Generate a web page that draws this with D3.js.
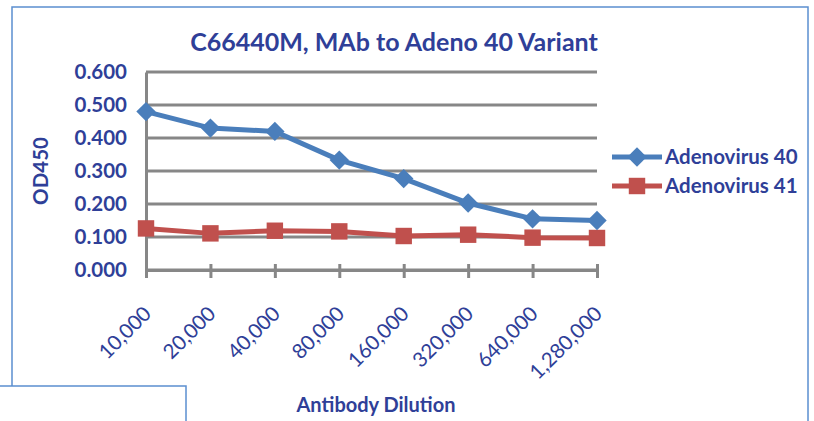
<!DOCTYPE html>
<html>
<head>
<meta charset="utf-8">
<script src="https://cdn.jsdelivr.net/npm/d3@7"></script>
<style>
  body { margin: 0; background: #fff; }
  svg { display: block; }
</style>
</head>
<body>
<div id="chart"></div>
<script>
// data
var dilutions = ["10,000", "20,000", "40,000", "80,000", "160,000", "320,000", "640,000", "1,280,000"];
var adeno40 = [0.480, 0.430, 0.420, 0.333, 0.277, 0.203, 0.155, 0.150];
var adeno41 = [0.126, 0.111, 0.119, 0.117, 0.103, 0.107, 0.098, 0.097];
var yTicks = [0, 0.1, 0.2, 0.3, 0.4, 0.5, 0.6];
var seriesNames = ["Adenovirus 40", "Adenovirus 41"];

var width = 814, height = 421;
var textColor = "#2f3f98";
var gridColor = "#878787";
var blue = "#4a7ebb", red = "#c0504d";
var font = "Lato, 'Open Sans', sans-serif";

var svg = d3.select("#chart").append("svg")
    .attr("width", width)
    .attr("height", height);

// outer chart frame
svg.append("rect")
    .attr("x", 12).attr("y", 7)
    .attr("width", 796).attr("height", 430)
    .attr("fill", "#fff")
    .attr("stroke", "#5b8fd0")
    .attr("stroke-width", 1.5);

// second frame peeking in at bottom left
svg.append("rect")
    .attr("x", -5).attr("y", 386)
    .attr("width", 191).attr("height", 60)
    .attr("fill", "#fff")
    .attr("stroke", "#5b8fd0")
    .attr("stroke-width", 1.5);

var x = d3.scalePoint().domain(dilutions).range([146, 597]);
var y = d3.scaleLinear().domain([0, 0.6]).range([270, 72]);

// gridlines
svg.append("g").selectAll("line")
    .data(yTicks)
    .enter().append("line")
    .attr("x1", 146).attr("x2", 597)
    .attr("y1", function (d) { return y(d); })
    .attr("y2", function (d) { return y(d); })
    .attr("stroke", gridColor)
    .attr("stroke-width", 3);

// y axis
var yAxis = svg.append("g")
    .attr("transform", "translate(146,0)")
    .call(d3.axisLeft(y).tickValues(yTicks).tickFormat(d3.format(".3f")).tickSize(0).tickPadding(19));
yAxis.select(".domain").attr("stroke", gridColor).attr("stroke-width", 3);
yAxis.selectAll("text")
    .attr("font-family", font)
    .attr("font-size", "20.5px")
    .attr("font-weight", "bold")
    .attr("fill", textColor);

// x axis
var xAxis = svg.append("g")
    .attr("transform", "translate(0,270)")
    .call(d3.axisBottom(x).tickSize(8).tickSizeOuter(0));
xAxis.select(".domain").attr("stroke", gridColor).attr("stroke-width", 3);
xAxis.selectAll(".tick line").attr("stroke", gridColor).attr("stroke-width", 3).attr("y1", -6);
xAxis.selectAll("text")
    .attr("font-family", font)
    .attr("font-size", "20.5px")
    .attr("fill", textColor)
    .attr("text-anchor", "end")
    .attr("y", 0).attr("dy", 0)
    .attr("transform", "translate(6,45) rotate(-45)");

var line = d3.line()
    .x(function (d, i) { return x(dilutions[i]); })
    .y(function (d) { return y(d); });

var diamond = d3.symbol().type(d3.symbolDiamond2).size(240);
var square = d3.symbol().type(d3.symbolSquare).size(270);

// Adenovirus 41
svg.append("path").datum(adeno41)
    .attr("d", line).attr("fill", "none")
    .attr("stroke", red).attr("stroke-width", 5);
svg.append("g").selectAll("path")
    .data(adeno41).enter().append("path")
    .attr("d", square)
    .attr("transform", function (d, i) { return "translate(" + x(dilutions[i]) + "," + y(d) + ")"; })
    .attr("fill", red);

// Adenovirus 40
svg.append("path").datum(adeno40)
    .attr("d", line).attr("fill", "none")
    .attr("stroke", blue).attr("stroke-width", 5);
svg.append("g").selectAll("path")
    .data(adeno40).enter().append("path")
    .attr("d", diamond)
    .attr("transform", function (d, i) { return "translate(" + x(dilutions[i]) + "," + y(d) + ")"; })
    .attr("fill", blue);

// title
svg.append("text")
    .attr("x", 394).attr("y", 51)
    .attr("text-anchor", "middle")
    .attr("font-family", font)
    .attr("font-size", "25px")
    .attr("font-weight", "bold")
    .attr("fill", textColor)
    .text("C66440M, MAb to Adeno 40 Variant");

// axis titles
svg.append("text")
    .attr("transform", "translate(48,171) rotate(-90)")
    .attr("text-anchor", "middle")
    .attr("font-family", font)
    .attr("font-size", "20.5px")
    .attr("font-weight", "bold")
    .attr("fill", textColor)
    .text("OD450");

svg.append("text")
    .attr("x", 376).attr("y", 412)
    .attr("text-anchor", "middle")
    .attr("font-family", font)
    .attr("font-size", "20px")
    .attr("font-weight", "bold")
    .attr("fill", textColor)
    .text("Antibody Dilution");

// legend
var legend = svg.append("g").selectAll("g")
    .data(seriesNames).enter().append("g")
    .attr("transform", function (d, i) { return "translate(612," + (157 + i * 29) + ")"; });
legend.append("line")
    .attr("x1", 0).attr("x2", 50)
    .attr("stroke", function (d, i) { return i ? red : blue; })
    .attr("stroke-width", 5);
legend.append("path")
    .attr("d", function (d, i) { return i ? square() : diamond(); })
    .attr("transform", "translate(25,0)")
    .attr("fill", function (d, i) { return i ? red : blue; });
legend.append("text")
    .attr("x", 53).attr("y", 7)
    .attr("font-family", font)
    .attr("font-size", "20.5px")
    .attr("font-weight", "bold")
    .attr("fill", textColor)
    .text(function (d) { return d; });
</script>
</body>
</html>
